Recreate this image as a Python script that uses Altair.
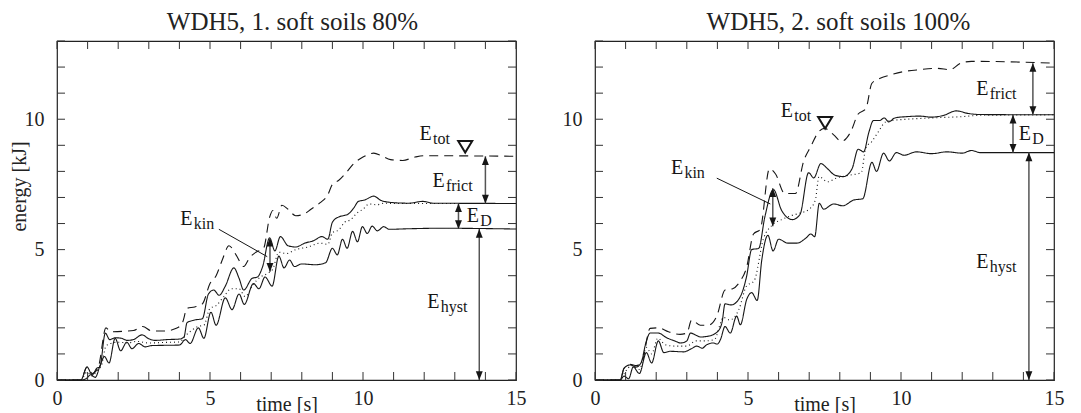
import altair as alt
import pandas as pd

FONT = "Liberation Serif"
INK = "#161616"

# ---------------- left panel: WDH5, 1. soft soils 80% ----------------
L_TITLE = "WDH5, 1. soft soils 80%"
L_HYST_T = [0, 0.78, 0.95, 1.1, 1.25, 1.42, 1.55, 1.7, 1.9, 2.08, 2.28, 2.45, 2.67, 2.88, 3.1, 3.5, 4.0, 4.2, 4.35, 4.62, 4.8, 5.03, 5.2, 5.5, 5.72, 5.95, 6.12, 6.42, 6.6, 6.8, 7.03, 7.25, 7.42, 7.6, 7.76, 8.0, 8.45, 8.78, 9.0, 9.16, 9.33, 9.48, 9.66, 9.82, 9.98, 10.14, 10.3, 10.47, 10.68, 10.85, 11.5, 12.5, 15]
L_HYST_E = [0, 0, 0.05, 0.2, 0.1, 0.6, 0.9, 0.65, 1.6, 1.12, 1.45, 1.2, 1.4, 1.27, 1.32, 1.33, 1.34, 1.55, 1.4, 2.0, 1.6, 2.6, 2.1, 3.15, 2.7, 3.3, 2.9, 3.7, 3.5, 3.95, 3.6, 4.75, 4.3, 4.6, 4.35, 4.45, 4.42, 4.5, 5.05, 4.8, 5.4, 5.05, 5.7, 5.3, 5.88, 5.62, 5.9, 5.72, 5.88, 5.78, 5.8, 5.82, 5.79]
L_TOP_T = [0, 0.78, 0.98, 1.15, 1.3, 1.4, 1.58, 1.72, 1.9, 2.1, 2.3, 2.5, 2.78, 3.0, 3.2, 3.6, 4.0, 4.15, 4.25, 4.5, 4.75, 4.95, 5.12, 5.3, 5.5, 5.78, 5.95, 6.1, 6.38, 6.55, 6.72, 6.95, 7.12, 7.3, 7.55, 7.8, 8.1, 8.4, 8.65, 8.85, 9.0, 9.2, 9.35, 9.5, 9.7, 9.85, 10.05, 10.35, 10.6, 11.0, 11.5, 11.95, 12.3, 15]
L_TOP_E = [0, 0, 0.5, 0.2, 0.45, 0.5, 1.8, 1.55, 1.62, 1.6, 1.52, 1.55, 1.73, 1.58, 1.52, 1.55, 1.57, 1.65, 2.2, 2.3, 2.35, 3.3, 3.45, 3.25, 3.6, 4.3, 3.9, 3.45, 3.9, 3.95, 4.35, 5.45, 4.95, 5.5, 5.15, 5.1, 5.25, 5.35, 5.5, 5.4, 6.05, 6.25, 6.3, 6.35, 6.6, 6.85, 6.9, 7.05, 6.88, 6.8, 6.78, 6.85, 6.78, 6.77]
L_DOT_T = [0, 0.78, 0.98, 1.15, 1.3, 1.45, 1.6, 1.75, 2.0, 2.3, 2.6, 3.0, 3.5, 4.0, 4.2, 4.4, 4.6, 4.8, 5.0, 5.2, 5.45, 5.7, 5.95, 6.15, 6.4, 6.65, 6.9, 7.05, 7.25, 7.5, 7.8, 8.2, 8.6, 8.85, 9.0, 9.2, 9.4, 9.6, 9.8, 10.0, 10.2, 10.45, 10.7, 11.0, 15]
L_DOT_E = [0, 0, 0.3, 0.15, 0.35, 0.55, 1.3, 1.4, 1.45, 1.42, 1.48, 1.42, 1.44, 1.46, 1.7, 1.9, 2.05, 2.1, 2.75, 2.85, 3.2, 3.5, 3.5, 3.2, 3.65, 3.95, 4.1, 4.25, 4.9, 4.85, 5.0, 5.1, 5.25, 5.2, 5.65, 5.75, 6.05, 6.15, 6.4, 6.55, 6.75, 6.72, 6.78, 6.77, 6.77]
L_TOT_T = [0, 0.78, 0.98, 1.15, 1.35, 1.6, 1.75, 2.2, 2.5, 2.8, 3.1, 3.5, 3.9, 4.1, 4.25, 4.5, 4.75, 5.0, 5.2, 5.4, 5.62, 5.85, 6.1, 6.3, 6.5, 6.75, 6.95, 7.05, 7.18, 7.35, 7.55, 7.8, 8.05, 8.3, 8.6, 8.85, 9.0, 9.2, 9.45, 9.7, 10.0, 10.35, 10.6, 10.9, 11.3, 11.7, 12.0, 15]
L_TOT_E = [0, 0, 0.5, 0.25, 0.5, 2.0, 1.85, 1.87, 1.9, 2.05, 1.88, 1.88, 1.98, 2.2, 2.75, 2.8, 2.92, 3.7, 4.0, 4.6, 5.15, 4.8, 4.35, 4.7, 4.9, 5.05, 6.25, 6.5, 6.2, 6.7, 6.55, 6.3, 6.35, 6.55, 6.8, 7.1, 7.5, 7.65, 7.95, 8.3, 8.55, 8.7, 8.6, 8.45, 8.42, 8.55, 8.6, 8.58]

L_LABEL_T = [11.85, 12.27, 13.39, 12.1, 4.03]
L_LABEL_E = [9.2, 7.42, 6.07, 2.75, 5.95]
L_ARROW_T = [14.0, 13.12, 13.8, 6.96]
L_ARROW_TOP = [8.58, 6.77, 5.79, 5.45]
L_ARROW_BOT = [6.77, 5.79, 0.0, 4.15]
L_LEADER = [5.29, 5.78, 6.87, 4.73]
L_MARKER = [13.34, 8.95]

# ---------------- right panel: WDH5, 2. soft soils 100% ----------------
R_TITLE = "WDH5, 2. soft soils 100%"
R_HYST_T = [0, 0.82, 0.95, 1.1, 1.25, 1.45, 1.68, 1.85, 2.07, 2.25, 2.45, 2.9, 3.15, 3.33, 3.5, 3.65, 3.85, 4.0, 4.1, 4.25, 4.42, 4.63, 4.75, 4.96, 5.12, 5.3, 5.45, 5.65, 5.82, 6.0, 6.3, 6.6, 6.9, 7.05, 7.18, 7.33, 7.47, 7.8, 8.1, 8.45, 8.75, 9.05, 9.2, 9.43, 9.62, 9.85, 10.1, 10.5, 11.0, 11.5, 12.0, 12.3, 12.6, 15]
R_HYST_E = [0, 0, 0.15, 0.05, 0.5, 0.25, 1.05, 0.65, 1.5, 1.05, 1.1, 1.08, 1.2, 1.3, 1.22, 1.35, 1.42, 1.38, 1.55, 2.05, 1.8, 2.45, 2.12, 3.1, 3.35, 3.05, 4.6, 5.55, 4.95, 5.4, 5.25, 5.25, 5.45, 5.6, 5.5, 6.78, 6.55, 6.75, 6.68, 6.9, 6.95, 8.35, 8.0, 8.7, 8.4, 8.72, 8.62, 8.75, 8.68, 8.75, 8.7, 8.8, 8.72, 8.72]
R_TOP_T = [0, 0.82, 0.95, 1.15, 1.35, 1.5, 1.68, 1.8, 2.07, 2.34, 2.6, 2.8, 3.0, 3.12, 3.3, 3.45, 3.7, 4.0, 4.15, 4.25, 4.45, 4.75, 4.95, 5.12, 5.35, 5.55, 5.83, 6.1, 6.45, 6.7, 6.98, 7.15, 7.38, 7.6, 7.85, 8.12, 8.4, 8.6, 8.78, 8.95, 9.1, 9.3, 9.45, 9.6, 9.8, 10.2, 10.6, 11.0, 11.4, 11.8, 12.2, 12.6, 15]
R_TOP_E = [0, 0, 0.45, 0.58, 0.5, 0.65, 1.5, 1.8, 1.8, 1.62, 1.5, 1.42, 1.5, 1.8, 1.72, 1.65, 1.68, 1.85, 2.2, 2.92, 2.88, 3.2, 3.95, 5.0, 5.05, 6.25, 7.3, 6.5, 6.15, 6.35, 7.95, 7.75, 8.3, 8.1, 7.85, 7.8, 8.1, 8.85, 8.75, 9.5, 9.95, 9.95, 10.05, 9.9, 10.05, 10.1, 10.12, 10.08, 10.15, 10.32, 10.22, 10.18, 10.17]
R_DOT_T = [0, 0.82, 0.98, 1.2, 1.45, 1.68, 1.85, 2.05, 2.3, 2.6, 3.0, 3.3, 3.6, 3.9, 4.2, 4.4, 4.7, 4.95, 5.2, 5.5, 5.8, 6.1, 6.4, 6.7, 7.0, 7.2, 7.32, 7.6, 7.9, 8.3, 8.7, 8.85, 9.05, 9.25, 9.5, 9.7, 10.2, 11.0, 12.0, 12.6, 15]
R_DOT_E = [0, 0, 0.3, 0.55, 0.4, 1.25, 1.0, 1.6, 1.35, 1.3, 1.3, 1.5, 1.5, 1.55, 2.4, 2.3, 2.7, 3.6, 3.8, 5.4, 5.95, 6.15, 6.3, 6.4, 6.55, 6.9, 7.8, 7.6, 7.75, 7.85, 7.95, 8.9, 9.15, 9.5, 9.9, 9.95, 10.0, 10.05, 10.1, 10.15, 10.17]
R_TOT_T = [0, 0.82, 0.95, 1.15, 1.35, 1.55, 1.8, 2.07, 2.4, 2.78, 3.0, 3.16, 3.44, 3.7, 3.98, 4.25, 4.5, 4.74, 4.95, 5.18, 5.4, 5.7, 5.9, 6.2, 6.55, 6.82, 7.05, 7.3, 7.5, 7.8, 8.05, 8.35, 8.6, 8.85, 9.05, 9.32, 9.65, 10.1, 10.6, 11.2, 11.6, 11.95, 12.3, 15]
R_TOT_E = [0, 0, 0.45, 0.6, 0.55, 0.75, 1.98, 2.0, 1.85, 1.75, 1.8, 2.3, 2.1, 2.1, 2.45, 3.45, 3.5, 3.78, 4.3, 5.6, 5.78, 8.1, 7.9, 7.15, 7.15, 8.4, 8.95, 9.5, 9.65, 9.4, 9.15, 9.5, 10.2, 10.4, 11.38, 11.57, 11.7, 11.83, 11.9, 11.95, 11.9, 12.15, 12.22, 12.15]

R_LABEL_T = [6.07, 12.46, 13.85, 12.46, 2.48]
R_LABEL_E = [10.08, 10.93, 9.21, 4.28, 7.9]
R_ARROW_T = [14.31, 13.66, 14.18, 5.81]
R_ARROW_TOP = [12.15, 10.17, 8.72, 7.35]
R_ARROW_BOT = [10.17, 8.72, 0.0, 5.9]
R_LEADER = [3.98, 7.74, 5.73, 6.75]
R_MARKER = [7.52, 9.87]

LABEL_SUB = ["tot", "frict", "D", "hyst", "kin"]
SERIES = ["hyst", "dot", "top", "tot"]
DASHES = [[1, 0], [1, 3], [1, 0], [9, 6]]
TICKS_T = list(range(16))
TICKS_E = list(range(14))
LABELS_T = [0, 5, 10, 15]
LABELS_E = [0, 5, 10]

UP_HEAD = "M0,0L0.4,1L-0.4,1Z"
DOWN_HEAD = "M0,0L0.4,-1L-0.4,-1Z"
OPEN_TRI = "M-0.7,-0.55L0.7,-0.55L0,0.6Z"

W, H = 459, 339
TICK = 8


def panel(title, title_dx, curves, lab_t, lab_e, ar_t, ar_top, ar_bot, leader, marker, ytitle):
    xs = alt.Scale(domain=[0, 15], nice=False, zero=False)
    ys = alt.Scale(domain=[0, 13], nice=False, zero=False)
    axis_common = dict(ticks=False, tickSize=0, domain=False, grid=False,
                       labelOverlap=False, labelFlush=False)
    x_bottom = alt.Axis(orient="bottom", values=LABELS_T,
                        labelBaseline="alphabetic", labelPadding=24,
                        title="time [s]", titleBaseline="alphabetic", titleY=30,
                        **axis_common)
    yargs = dict(orient="left", values=LABELS_E, labelPadding=13, **axis_common)
    if ytitle:
        yargs.update(title=ytitle, titleBaseline="middle", titleX=-38, titleY=145)
    else:
        yargs.update(title=None)
    y_left = alt.Axis(**yargs)

    X = lambda f: alt.X(f, scale=xs)
    Y = lambda f: alt.Y(f, scale=ys)

    frames = []
    for i, (t, e) in enumerate(curves):
        frames.append(pd.DataFrame({"t": t, "E": e, "s": SERIES[i]}))
    df = pd.concat(frames, ignore_index=True)

    lines = alt.Chart(df).mark_line(interpolate="monotone", strokeWidth=1.1, color=INK).encode(
        x=alt.X("t:Q", scale=xs, axis=x_bottom),
        y=alt.Y("E:Q", scale=ys, axis=y_left),
        strokeDash=alt.StrokeDash("s:N", scale=alt.Scale(domain=SERIES, range=DASHES), legend=None),
        detail="s:N",
    )

    # inward ticks on all four frame edges
    tx = pd.DataFrame({"t": TICKS_T})
    te = pd.DataFrame({"E": TICKS_E})
    tick_style = dict(color="#333", strokeWidth=1)
    top_ticks = alt.Chart(tx).mark_rule(**tick_style).encode(x=X("t:Q"), y=alt.value(0), y2=alt.value(TICK))
    bot_ticks = alt.Chart(tx).mark_rule(**tick_style).encode(x=X("t:Q"), y=alt.value(H - TICK), y2=alt.value(H))
    left_ticks = alt.Chart(te).mark_rule(**tick_style).encode(y=Y("E:Q"), x=alt.value(0), x2=alt.value(TICK))
    right_ticks = alt.Chart(te).mark_rule(**tick_style).encode(y=Y("E:Q"), x=alt.value(W - TICK), x2=alt.value(W))

    adf = pd.DataFrame({"t": ar_t, "E": ar_top, "b": ar_bot})
    arrows = alt.Chart(adf).mark_rule(color="#555", strokeWidth=1.5).encode(
        x=X("t:Q"), y=Y("E:Q"), y2="b:Q",
    )

    hdf = pd.concat([
        pd.DataFrame({"t": ar_t, "E": ar_top, "d": "up"}),
        pd.DataFrame({"t": ar_t, "E": ar_bot, "d": "down"}),
    ], ignore_index=True)
    heads = alt.Chart(hdf).mark_point(filled=True, opacity=1, color=INK, size=300).encode(
        x=X("t:Q"), y=Y("E:Q"),
        shape=alt.Shape("d:N", scale=alt.Scale(domain=["up", "down"], range=[UP_HEAD, DOWN_HEAD]), legend=None),
    )

    ldf = pd.DataFrame({"t": [leader[0]], "E": [leader[1]], "t2": [leader[2]], "E2": [leader[3]]})
    lead = alt.Chart(ldf).mark_rule(color=INK, strokeWidth=1).encode(
        x=X("t:Q"), y=Y("E:Q"), x2="t2:Q", y2="E2:Q",
    )

    mdf = pd.DataFrame({"t": [marker[0]], "E": [marker[1]]})
    mark = alt.Chart(mdf).mark_point(shape=OPEN_TRI, filled=False, color=INK, strokeWidth=2, size=400, opacity=1).encode(
        x=X("t:Q"), y=Y("E:Q"),
    )

    tdf = pd.DataFrame({"t": lab_t, "E": lab_e, "main": "E", "sub": LABEL_SUB})
    tmain = alt.Chart(tdf).mark_text(align="left", baseline="alphabetic", font=FONT, fontSize=20, color=INK).encode(
        x=X("t:Q"), y=Y("E:Q"), text="main:N",
    )
    tsub = alt.Chart(tdf).mark_text(align="left", baseline="alphabetic", font=FONT, fontSize=16, color=INK, dx=13.5, dy=4).encode(
        x=X("t:Q"), y=Y("E:Q"), text="sub:N",
    )

    ttl = alt.Chart(pd.DataFrame({"txt": [title]})).mark_text(
        align="center", baseline="alphabetic", font=FONT, fontSize=25, color="#222"
    ).encode(x=alt.value(W / 2 + title_dx), y=alt.value(-11), text="txt:N")

    return alt.layer(lines, top_ticks, bot_ticks, left_ticks, right_ticks,
                     arrows, heads, lead, mark, tmain, tsub, ttl).properties(width=W, height=H)


left = panel(L_TITLE, 6,
             [(L_HYST_T, L_HYST_E), (L_DOT_T, L_DOT_E), (L_TOP_T, L_TOP_E), (L_TOT_T, L_TOT_E)],
             L_LABEL_T, L_LABEL_E, L_ARROW_T, L_ARROW_TOP, L_ARROW_BOT, L_LEADER, L_MARKER,
             "energy [kJ]")
right = panel(R_TITLE, 14,
              [(R_HYST_T, R_HYST_E), (R_DOT_T, R_DOT_E), (R_TOP_T, R_TOP_E), (R_TOT_T, R_TOT_E)],
              R_LABEL_T, R_LABEL_E, R_ARROW_T, R_ARROW_TOP, R_ARROW_BOT, R_LEADER, R_MARKER,
              None)

chart = alt.hconcat(left, right, spacing=34).properties(
    padding={"left": 0, "top": 1, "right": 0, "bottom": 0}
).configure_view(
    stroke="#222", strokeWidth=1.2
).configure_axis(
    labelFont=FONT, labelFontSize=20, labelColor="#222",
    titleFont=FONT, titleFontSize=20, titleFontWeight="normal", titleColor="#222",
)

chart.save("out.html", embed_options={"renderer": "svg", "actions": False})
